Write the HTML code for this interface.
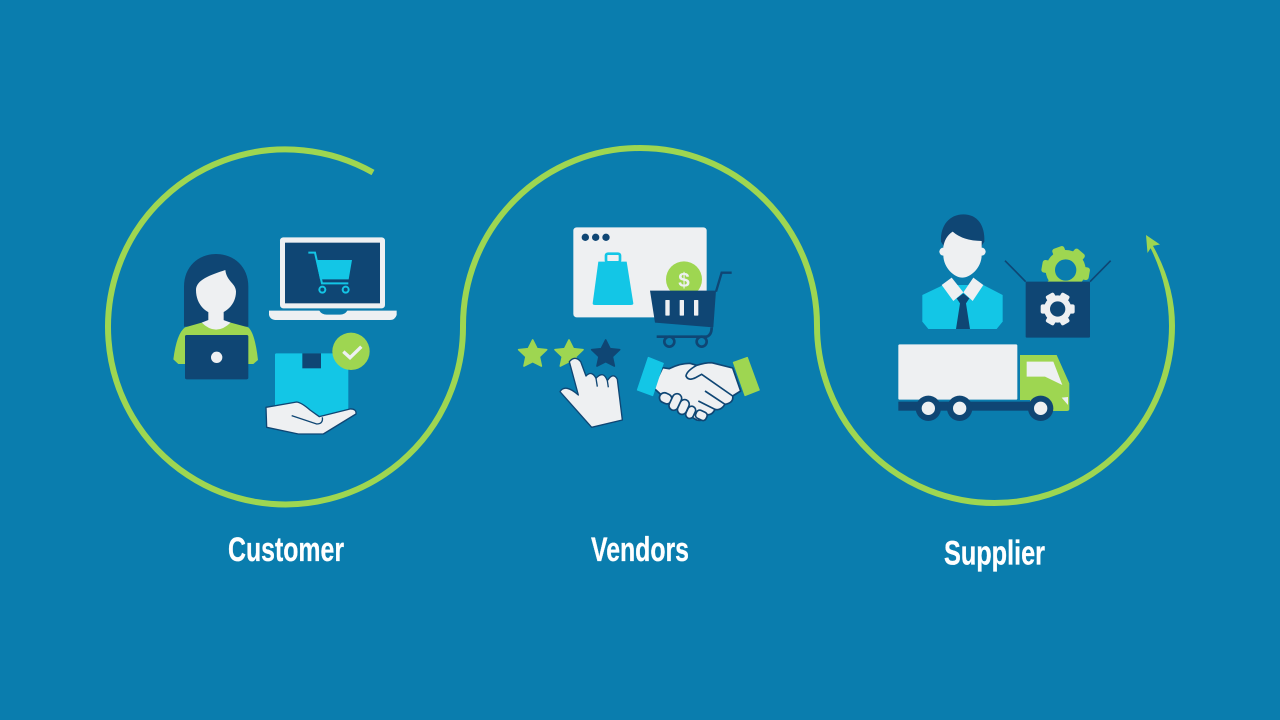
<!DOCTYPE html>
<html><head><meta charset="utf-8"><style>
html,body{margin:0;padding:0;width:1280px;height:720px;overflow:hidden;background:#0a7dae}
svg{display:block}
text.l{font-family:"Liberation Sans Narrow","Liberation Sans",sans-serif;font-weight:700;font-size:34px;fill:#fff;stroke:#fff;stroke-width:.3}
</style></head><body>
<svg width="1280" height="720" viewBox="0 0 1280 720" xmlns="http://www.w3.org/2000/svg">
<rect width="1280" height="720" fill="#0a7dae"/>
<path d="M373 172.500 A177.500 177.500 0 1 0 463 325.500 A177 177.500 0 0 1 817 325.500 A177.500 177.500 0 0 0 1172 325.500" fill="none" stroke="#9ed651" stroke-width="6"/>
<path d="M1169 326 Q1169 285 1150 247 L1152.500 245 Q1175 285 1175 326 Z" fill="#9ed651"/>
<polygon points="1146,235 1160,244.500 1152,246 1147.500,253" fill="#9ed651"/>

<!-- Customer -->
<g transform="translate(160 220) scale(.33333)">
<path d="M72 320 V200 C72 140 115 102 168 102 C222 102 265 140 265 200 V320 Z" fill="#0f4674"/>
<rect x="145" y="270" width="46" height="50" fill="#eef0f2"/>
<path d="M108 210 C108 180 150 165 196 150 C200 185 228 190 228 215 C228 255 195 282 168 282 C140 282 108 255 108 210 Z" fill="#eef0f2"/>
<path d="M75 322 L125 308 Q168 345 212 308 L265 322 Q285 340 294 420 L280 432 H55 L40 418 Q50 340 75 322 Z" fill="#9ed651"/>
<path d="M125 308 Q168 350 212 308 L190 300 H145 Z" fill="#eef0f2"/>
<rect x="75" y="345" width="190" height="133" rx="5" fill="#0f4674"/>
<circle cx="170" cy="412" r="17" fill="#eef0f2"/>

<rect x="360" y="52" width="315" height="213" rx="10" fill="#eef0f2"/>
<rect x="375" y="68" width="285" height="182" fill="#0f4674"/>
<path d="M327 272 H478 Q485 284 500 284 H540 Q555 284 562 272 H710 V285 Q705 300 690 300 H345 Q330 298 327 285 Z" fill="#eef0f2"/>
<path d="M445 98 H465 L486 190 H565" fill="none" stroke="#13c6e6" stroke-width="6"/>
<path d="M468 120 H576 L566 178 H480 Z" fill="#13c6e6"/>
<circle cx="487" cy="209" r="9" fill="none" stroke="#13c6e6" stroke-width="6"/>
<circle cx="557" cy="209" r="9" fill="none" stroke="#13c6e6" stroke-width="6"/>

<rect x="345" y="400" width="220" height="195" rx="4" fill="#13c6e6"/>
<rect x="427" y="400" width="56" height="45" fill="#0f4674"/>
<circle cx="573" cy="394" r="56" fill="#9ed651"/>
<path d="M550 395 L570 413 L604 380" fill="none" stroke="#eef0f2" stroke-width="10"/>
<path d="M318 562 L410 546 Q425 548 450 570 L478 590 L570 567 Q590 566 588 582 L490 642 H415 L320 622 Z" fill="#eef0f2" stroke="#0f4674" stroke-width="4" stroke-linejoin="round"/>
<path d="M395 587 L470 612 Q490 612 487 592" fill="none" stroke="#0f4674" stroke-width="4"/>
</g>

<!-- Vendors -->
<g transform="translate(510 220) scale(.33333)">
<rect x="190" y="22" width="400" height="270" rx="10" fill="#eef0f2"/>
<circle cx="226" cy="52" r="11" fill="#0f4674"/><circle cx="257" cy="52" r="11" fill="#0f4674"/><circle cx="288" cy="52" r="11" fill="#0f4674"/>
<path d="M265 125 H350 L370 250 Q370 255 362 255 H255 Q248 255 248 250 Z" fill="#13c6e6"/>
<rect x="288" y="101" width="42" height="26" rx="6" fill="none" stroke="#13c6e6" stroke-width="8"/>
<circle cx="522" cy="178" r="54" fill="#9ed651"/>
<text x="522" y="201" text-anchor="middle" font-family="Liberation Sans,sans-serif" font-size="62" font-weight="700" fill="#eef0f2">$</text>
<path d="M420 212 H618 L610 322 L435 308 Z" fill="#0f4674"/>
<path d="M618 215 L635 158 H665" fill="none" stroke="#0f4674" stroke-width="7"/>
<path d="M440 350 H590 Q605 345 605 322" fill="none" stroke="#0f4674" stroke-width="8"/>
<circle cx="478" cy="365" r="15" fill="none" stroke="#0f4674" stroke-width="8"/>
<circle cx="575" cy="365" r="15" fill="none" stroke="#0f4674" stroke-width="8"/>
<rect x="466" y="240" width="13" height="47" rx="2" fill="#eef0f2"/><rect x="509" y="240" width="13" height="47" rx="2" fill="#eef0f2"/><rect x="552" y="240" width="13" height="47" rx="2" fill="#eef0f2"/>
<g stroke-linejoin="round" stroke-width="5">
<polygon points="68,360 81,386 110,389 88,410 94,438 68,425 42,438 48,410 26,389 55,386" fill="#9ed651" stroke="#9ed651"/>
<polygon points="177,360 190,386 219,389 197,410 203,438 177,425 151,438 157,410 135,389 164,386" fill="#9ed651" stroke="#9ed651"/>
<polygon points="287,360 300,386 329,389 307,410 313,438 287,425 261,438 267,410 245,389 274,386" fill="#0f4674" stroke="#0f4674"/>
</g>
<path d="M178 425 Q195 405 212 425 L228 468 Q245 450 258 475 Q280 450 292 482 Q310 455 322 478 L337 600 L245 622 L150 515 Q165 490 205 525 Z" fill="#eef0f2" stroke="#0f4674" stroke-width="4" stroke-linejoin="round"/>
<path d="M258 475 L262 500 M292 482 L295 502" stroke="#0f4674" stroke-width="4" fill="none"/>

<g transform="translate(360 378)">
<path d="M98 65 L118 68 Q150 52 180 52 L200 58 Q225 50 245 50 L308 66 L332 135 L308 150 Q312 170 285 175 Q272 195 255 190 Q245 210 230 205 Q222 228 200 222 L130 180 L70 125 Z" fill="#eef0f2" stroke="#0f4674" stroke-width="5" stroke-linejoin="round"/>
<path d="M200 58 Q170 75 168 90 Q175 106 197 95 L215 85 L308 150 M225 135 L285 175 M205 165 L255 190" fill="none" stroke="#0f4674" stroke-width="5"/>
<g fill="#eef0f2" stroke="#0f4674" stroke-width="5">
<rect x="88" y="142" width="38" height="30" rx="15" transform="rotate(25 107 157)"/>
<rect x="122" y="142" width="28" height="52" rx="14" transform="rotate(25 136 168)"/>
<rect x="146" y="160" width="28" height="46" rx="14" transform="rotate(25 160 183)"/>
<rect x="170" y="180" width="24" height="38" rx="12" transform="rotate(25 182 199)"/>
<rect x="197" y="195" width="34" height="26" rx="10" transform="rotate(25 214 208)"/>
</g>
<path d="M55 34 L100 52 L68 149 L22 132 Z" fill="#13c6e6" stroke="#13c6e6" stroke-width="3" stroke-linejoin="round"/>
<path d="M310 49 L352 34 L388 132 L345 149 Z" fill="#9ed651" stroke="#9ed651" stroke-width="3" stroke-linejoin="round"/>
</g>
</g>

<!-- Supplier -->
<g transform="translate(890 205) scale(.33333)">
<circle cx="160" cy="140" r="12" fill="#eef0f2"/><circle cx="275" cy="140" r="12" fill="#eef0f2"/>
<path d="M153 110 C150 60 180 28 220 28 C262 28 285 60 283 110 L270 130 H165 Z" fill="#0f4674"/>
<path d="M160 125 Q165 95 188 80 Q220 108 275 108 V150 C275 190 240 218 217 218 C195 218 160 190 160 150 Z" fill="#eef0f2"/>
<polygon points="97,270 160,240 280,240 338,270 338,350 320,372 115,372 97,350" fill="#13c6e6"/>
<polygon points="155,240 185,218 220,262 190,288" fill="#eef0f2"/>
<polygon points="280,240 250,218 220,262 248,288" fill="#eef0f2"/>
<polygon points="200,280 220,265 238,280 228,295 240,372 198,372 210,295" fill="#0f4674"/>

<g fill="#9ed651" transform="rotate(10 527 195)">
<circle cx="527" cy="195" r="60"/>
<rect x="455" y="176" width="144" height="38" rx="8"/>
<rect x="455" y="176" width="144" height="38" rx="8" transform="rotate(60 527 195)"/>
<rect x="455" y="176" width="144" height="38" rx="8" transform="rotate(120 527 195)"/>
</g>
<circle cx="527" cy="195" r="32" fill="#0a7dae"/>
<rect x="407" y="230" width="193" height="168" rx="3" fill="#0f4674"/>
<path d="M407 230 L345 167 M600 230 L662 167" stroke="#0f4674" stroke-width="5" fill="none"/>
<g fill="#eef0f2">
<circle cx="503" cy="312" r="41"/>
<rect x="452" y="298" width="102" height="28" rx="6"/>
<rect x="452" y="298" width="102" height="28" rx="6" transform="rotate(60 503 312)"/>
<rect x="452" y="298" width="102" height="28" rx="6" transform="rotate(120 503 312)"/>
</g>
<circle cx="503" cy="312" r="23" fill="#0f4674"/>

<rect x="25" y="418" width="357" height="166" rx="4" fill="#eef0f2"/>
<path d="M390 450 H500 L538 535 V612 Q538 618 530 618 H420 V585 H390 Z" fill="#9ed651"/>
<path d="M410 470 H490 L517 540 L465 515 H410 Z" fill="#eef0f2"/>
<polygon points="515,578 534,576 534,600" fill="#eef0f2"/>
<rect x="25" y="590" width="395" height="27" fill="#0f4674"/>
<g>
<circle cx="115" cy="610" r="38" fill="#0f4674"/><circle cx="115" cy="610" r="20" fill="#eef0f2"/>
<circle cx="209" cy="610" r="38" fill="#0f4674"/><circle cx="209" cy="610" r="20" fill="#eef0f2"/>
<circle cx="452" cy="610" r="38" fill="#0f4674"/><circle cx="452" cy="610" r="20" fill="#eef0f2"/>
</g>
</g>

<text class="l" x="228" y="561" textLength="116" lengthAdjust="spacingAndGlyphs">Customer</text>
<text class="l" x="591" y="561" textLength="98" lengthAdjust="spacingAndGlyphs">Vendors</text>
<text class="l" x="944" y="564.500" textLength="101" lengthAdjust="spacingAndGlyphs">Supplier</text>
</svg>
</body></html>
